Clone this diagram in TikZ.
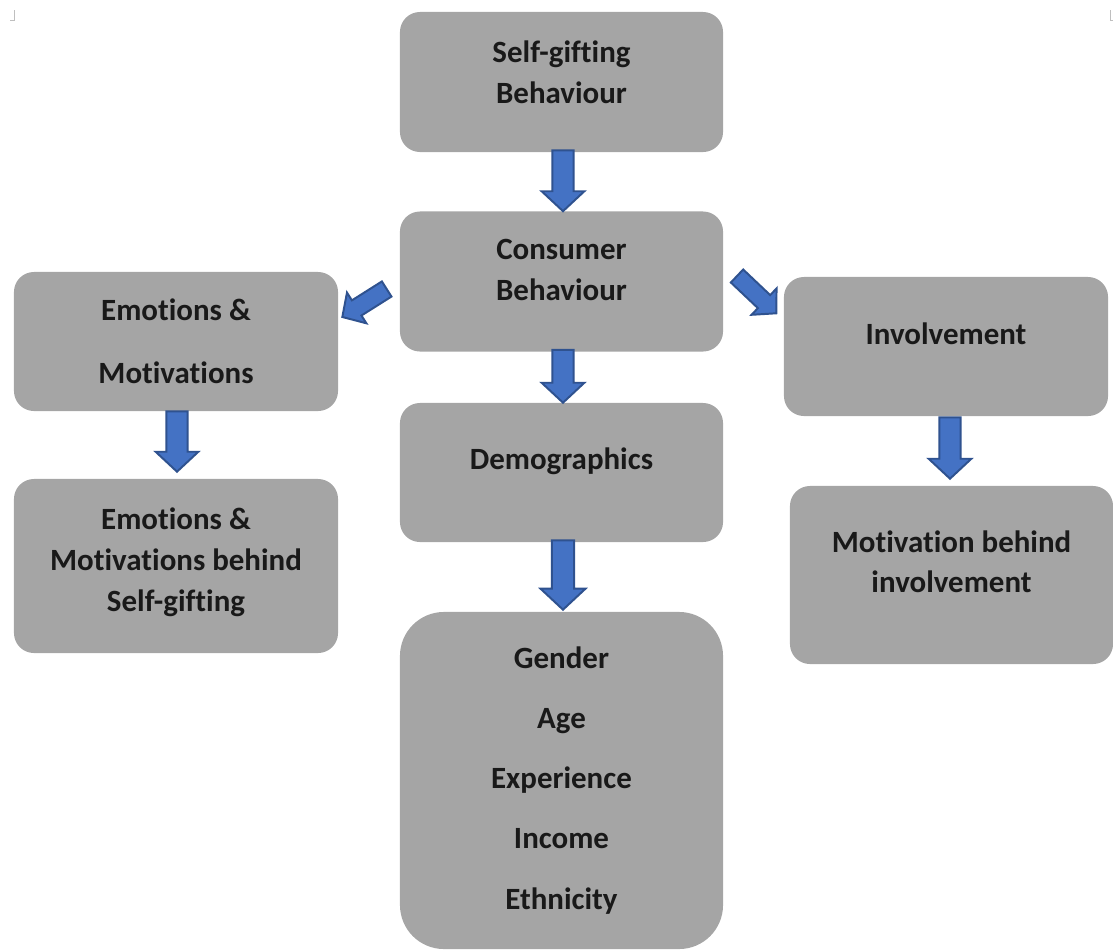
\documentclass[tikz,border=0pt]{standalone}
\usepackage{fontspec}
\setmainfont{Carlito}[Ligatures=NoCommon]
\usetikzlibrary{calc}
\definecolor{boxgray}{HTML}{A5A5A5}
\definecolor{arrowblue}{HTML}{4472C4}
\definecolor{arrowedge}{HTML}{2F528F}
\tikzstyle{box} = [rectangle, fill=boxgray, rounded corners=0.5cm, minimum width=8.075cm, minimum height=3.5cm]
\tikzstyle{boxtext} = [align=center, font=\fontsize{22}{29}\selectfont\bfseries, text=black!90]
\tikzstyle{blockarrow} = [fill=arrowblue, draw=arrowedge, line width=1.4pt, line join=miter]
\tikzstyle{cropmark} = [draw=gray!50, line width=0.6pt]

% block arrow from #2 to #3, #1 = size factor
\newcommand\blockarrow[3][1]{%
  \draw[blockarrow] let \p1=(#2), \p2=(#3),
    \n1={atan2(\y2-\y1,\x2-\x1)}, \n2={veclen(\x2-\x1,\y2-\y1)} in
    [shift={(\p1)}, rotate=\n1]
    (0pt,{7.5pt*#1}) -- ({\n2-14.2pt*#1},{7.5pt*#1}) -- ({\n2-14.2pt*#1},{15.2pt*#1})
    -- (\n2,0pt) -- ({\n2-14.2pt*#1},{-15.2pt*#1}) -- ({\n2-14.2pt*#1},{-7.5pt*#1})
    -- (0pt,{-7.5pt*#1}) -- cycle;}

\begin{document}
\begin{tikzpicture}[x=0.025cm, y=-0.025cm]
        \useasboundingbox (0,0) rectangle (1113,949);
        \draw [cropmark] (10,20) -- (14,20) -- (14,10);
        \draw [cropmark] (1110,10) -- (1110,20) -- (1113,20);
        \node (gift) [box, label={[boxtext, yshift=0.25cm]center:Self-gifting\\Behaviour}] at (561.5,82) {};
        \node (cons) [box, label={[boxtext, yshift=0.29cm]center:Consumer\\Behaviour}] at (561.5,281.5) {};
        \node (emo) [box, minimum width=8.1cm, minimum height=3.475cm, label={[boxtext]center:Emotions \&\\[15.7pt]Motivations}] at (176,341.5) {};
        \node (inv) [box, minimum width=8.1cm, minimum height=3.475cm, label={[boxtext, yshift=0.31cm]center:Involvement}] at (946,346.5) {};
        \node (demo) [box, minimum height=3.475cm, label={[boxtext, yshift=0.29cm]center:Demographics}] at (561.5,472.5) {};
        \node (emobeh) [box, minimum width=8.1cm, minimum height=4.35cm, label={[boxtext, yshift=0.1cm]center:Emotions \&\\Motivations behind\\Self-gifting}] at (176,566) {};
        \node (invbeh) [box, minimum height=4.45cm, label={[boxtext, yshift=0.33cm]center:Motivation behind\\involvement}] at (951.5,575) {};
        \node (attr) [box, rounded corners=1.1cm, minimum height=8.425cm, label={[boxtext]center:Gender\\[13.7pt]Age\\[13.7pt]Experience\\[13.7pt]Income\\[13.7pt]Ethnicity}] at (561.5,780.5) {};
        \blockarrow{$(gift.south)+(1.5,-2)$}{$(cons.north)+(1.5,0)$}
        \blockarrow{$(cons.south)+(1.5,-2)$}{$(demo.north)+(1.5,0)$}
        \blockarrow[1.05]{$(demo.south)+(1.5,-2)$}{$(attr.north)+(1.5,-2)$}
        \blockarrow[0.85]{$(cons.west)+(-13,7.5)$}{$(emo.east)+(4,-24.5)$}
        \blockarrow[0.85]{$(cons.east)+(13.7,-5.5)$}{$(inv.west)+(-7.3,-33.2)$}
        \blockarrow{$(emo.south)+(1,0)$}{$(emobeh.north)+(1,-7)$}
        \blockarrow{$(inv.south)+(4,1)$}{$(invbeh.north)+(-1.5,-7)$}
\end{tikzpicture}
\end{document}
